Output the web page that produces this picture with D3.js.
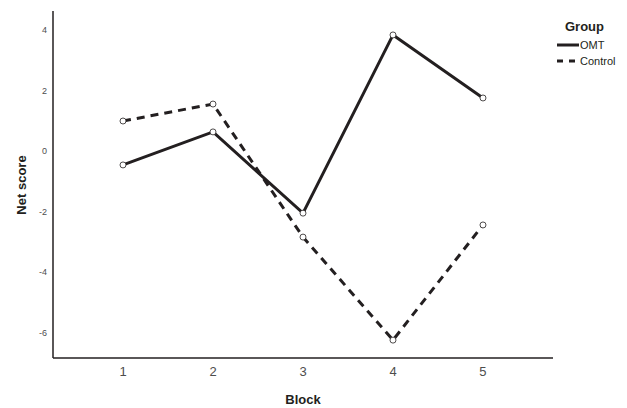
<!DOCTYPE html>
<html>
<head>
<meta charset="utf-8">
<script src="https://cdn.jsdelivr.net/npm/d3@7"></script>
<style>
body{margin:0;background:#fff;}
text{font-family:"Liberation Sans",Arial,sans-serif;}
</style>
</head>
<body>
<div id="chart"></div>
<script>
var blocks=[1,2,3,4,5];
var groups=["OMT","Control"];
var omtScores=[-0.46,0.63,-2.05,3.83,1.75];
var controlScores=[0.99,1.55,-2.84,-6.24,-2.44];
var yTicks=[-6,-4,-2,0,2,4];

var width=627,height=408;
var ink="#231f20";

var svg=d3.select("#chart").append("svg")
    .attr("width",width)
    .attr("height",height);

var x=d3.scaleLinear().domain([0.222,5.778]).range([53,553]);
var y=d3.scaleLinear().domain([-6.83,4.62]).range([358,11]);

// axes lines
svg.append("line").attr("x1",53).attr("x2",53).attr("y1",11).attr("y2",358)
    .attr("stroke",ink).attr("stroke-width",1.5);
svg.append("line").attr("x1",53).attr("x2",553).attr("y1",358).attr("y2",358)
    .attr("stroke",ink).attr("stroke-width",1.5);

// tick labels
svg.selectAll(".ytick").data(yTicks).enter().append("text")
    .attr("x",47).attr("y",function(d){return y(d);})
    .attr("dy","0.35em").attr("text-anchor","end")
    .attr("font-size",9).attr("fill","#4d4d4d")
    .text(function(d){return d;});

svg.selectAll(".xtick").data(blocks).enter().append("text")
    .attr("x",function(d){return x(d);}).attr("y",376)
    .attr("text-anchor","middle")
    .attr("font-size",13).attr("fill","#4d4d4d")
    .text(function(d){return d;});

// axis titles
svg.append("text").attr("x",x(3)).attr("y",404)
    .attr("text-anchor","middle").attr("font-size",13).attr("font-weight","bold")
    .attr("fill",ink).text("Block");
svg.append("text").attr("transform","translate(26,185) rotate(-90)")
    .attr("text-anchor","middle").attr("font-size",13).attr("font-weight","bold")
    .attr("fill",ink).text("Net score");

var series=[
    {name:"OMT",values:omtScores,dash:null},
    {name:"Control",values:controlScores,dash:"8,6"}
];

var line=d3.line()
    .x(function(d,i){return x(blocks[i]);})
    .y(function(d){return y(d);});

series.forEach(function(s){
    svg.append("path").datum(s.values)
        .attr("d",line)
        .attr("fill","none")
        .attr("stroke",ink)
        .attr("stroke-width",3)
        .attr("stroke-dasharray",s.dash);
    svg.selectAll(null).data(s.values).enter().append("circle")
        .attr("cx",function(d,i){return x(blocks[i]);})
        .attr("cy",function(d){return y(d);})
        .attr("r",3)
        .attr("fill","#fff")
        .attr("stroke",ink)
        .attr("stroke-width",0.8);
});

// legend
var lg=svg.append("g");
lg.append("text").attr("x",565).attr("y",31)
    .attr("font-size",13).attr("font-weight","bold").attr("fill",ink).text("Group");
series.forEach(function(s,i){
    var ly=45+i*16;
    lg.append("line").attr("x1",557).attr("x2",579).attr("y1",ly).attr("y2",ly)
        .attr("stroke",ink).attr("stroke-width",3)
        .attr("stroke-dasharray",s.dash?"6,6":null);
    lg.append("text").attr("x",580).attr("y",ly).attr("dy","0.35em")
        .attr("font-size",11).attr("fill",ink).text(s.name);
});
</script>
</body>
</html>
